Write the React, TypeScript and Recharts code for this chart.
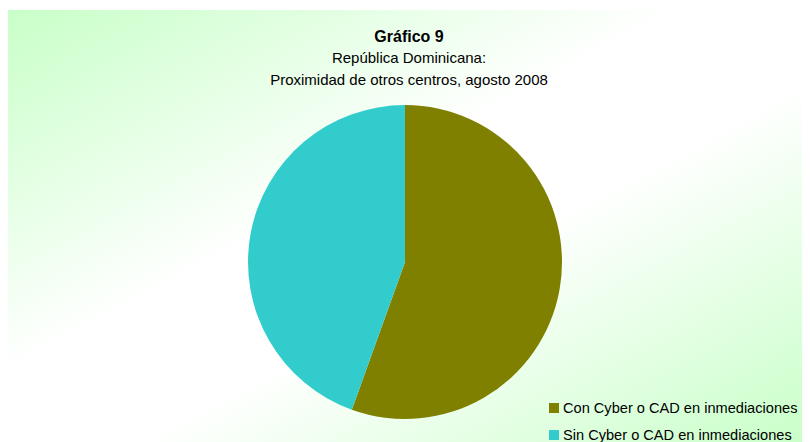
import { PieChart, Pie, Cell, Legend } from "recharts";

const CATEGORIES = [
  "Con Cyber o CAD en inmediaciones",
  "Sin Cyber o CAD en inmediaciones",
];
const VALUES = [55.5, 44.5];
const COLORS = ["#808000", "#33CCCC"];

const TITLE = "Gráfico 9";
const SUBTITLE_1 = "República Dominicana:";
const SUBTITLE_2 = "Proximidad de otros centros, agosto 2008";

const FONT = "'Liberation Sans', Arial, sans-serif";

const data = CATEGORIES.map((name, i) => ({ name, value: VALUES[i] }));

function PieLegend() {
  return (
    <div style={{ fontFamily: FONT, fontSize: 14.6, color: "#000", whiteSpace: "nowrap" }}>
      {data.map((d, i) => (
        <div
          key={d.name}
          style={{ display: "flex", alignItems: "center", height: 27 }}
        >
          <span
            style={{
              width: 10,
              height: 10,
              background: COLORS[i],
              marginRight: 4,
              display: "inline-block",
            }}
          />
          <span>{d.name}</span>
        </div>
      ))}
    </div>
  );
}

export default function App() {
  const W = 802;
  const H = 432;
  return (
    <div
      style={{
        position: "relative",
        width: W,
        height: H,
        marginTop: 2,
        overflow: "hidden",
        background:
          "linear-gradient(to bottom right, #c8ffc8 0%, #ffffff 42%, #ffffff 58%, #c8ffc8 100%)",
      }}
    >
      <div
        style={{
          position: "absolute",
          left: 0,
          width: W,
          top: 17,
          textAlign: "center",
          fontFamily: FONT,
          color: "#000",
        }}
      >
        <div style={{ fontWeight: "bold", fontSize: 16, lineHeight: "20px" }}>
          {TITLE}
        </div>
        <div style={{ fontSize: 15, lineHeight: "22px" }}>{SUBTITLE_1}</div>
        <div style={{ fontSize: 15, lineHeight: "22px" }}>{SUBTITLE_2}</div>
      </div>
      <PieChart width={W} height={H} style={{ position: "absolute", top: 0, left: 0 }}>
        <Pie
          data={data}
          dataKey="value"
          nameKey="name"
          cx={392}
          cy={247}
          outerRadius={157}
          startAngle={90}
          endAngle={-270}
          stroke="none"
          isAnimationActive={false}
        >
          {data.map((d, i) => (
            <Cell key={d.name} fill={COLORS[i]} />
          ))}
        </Pie>
        <Legend
          layout="vertical"
          align="right"
          verticalAlign="bottom"
          content={<PieLegend />}
          wrapperStyle={{ left: 541, top: 384, width: 260 }}
        />
      </PieChart>
    </div>
  );
}
